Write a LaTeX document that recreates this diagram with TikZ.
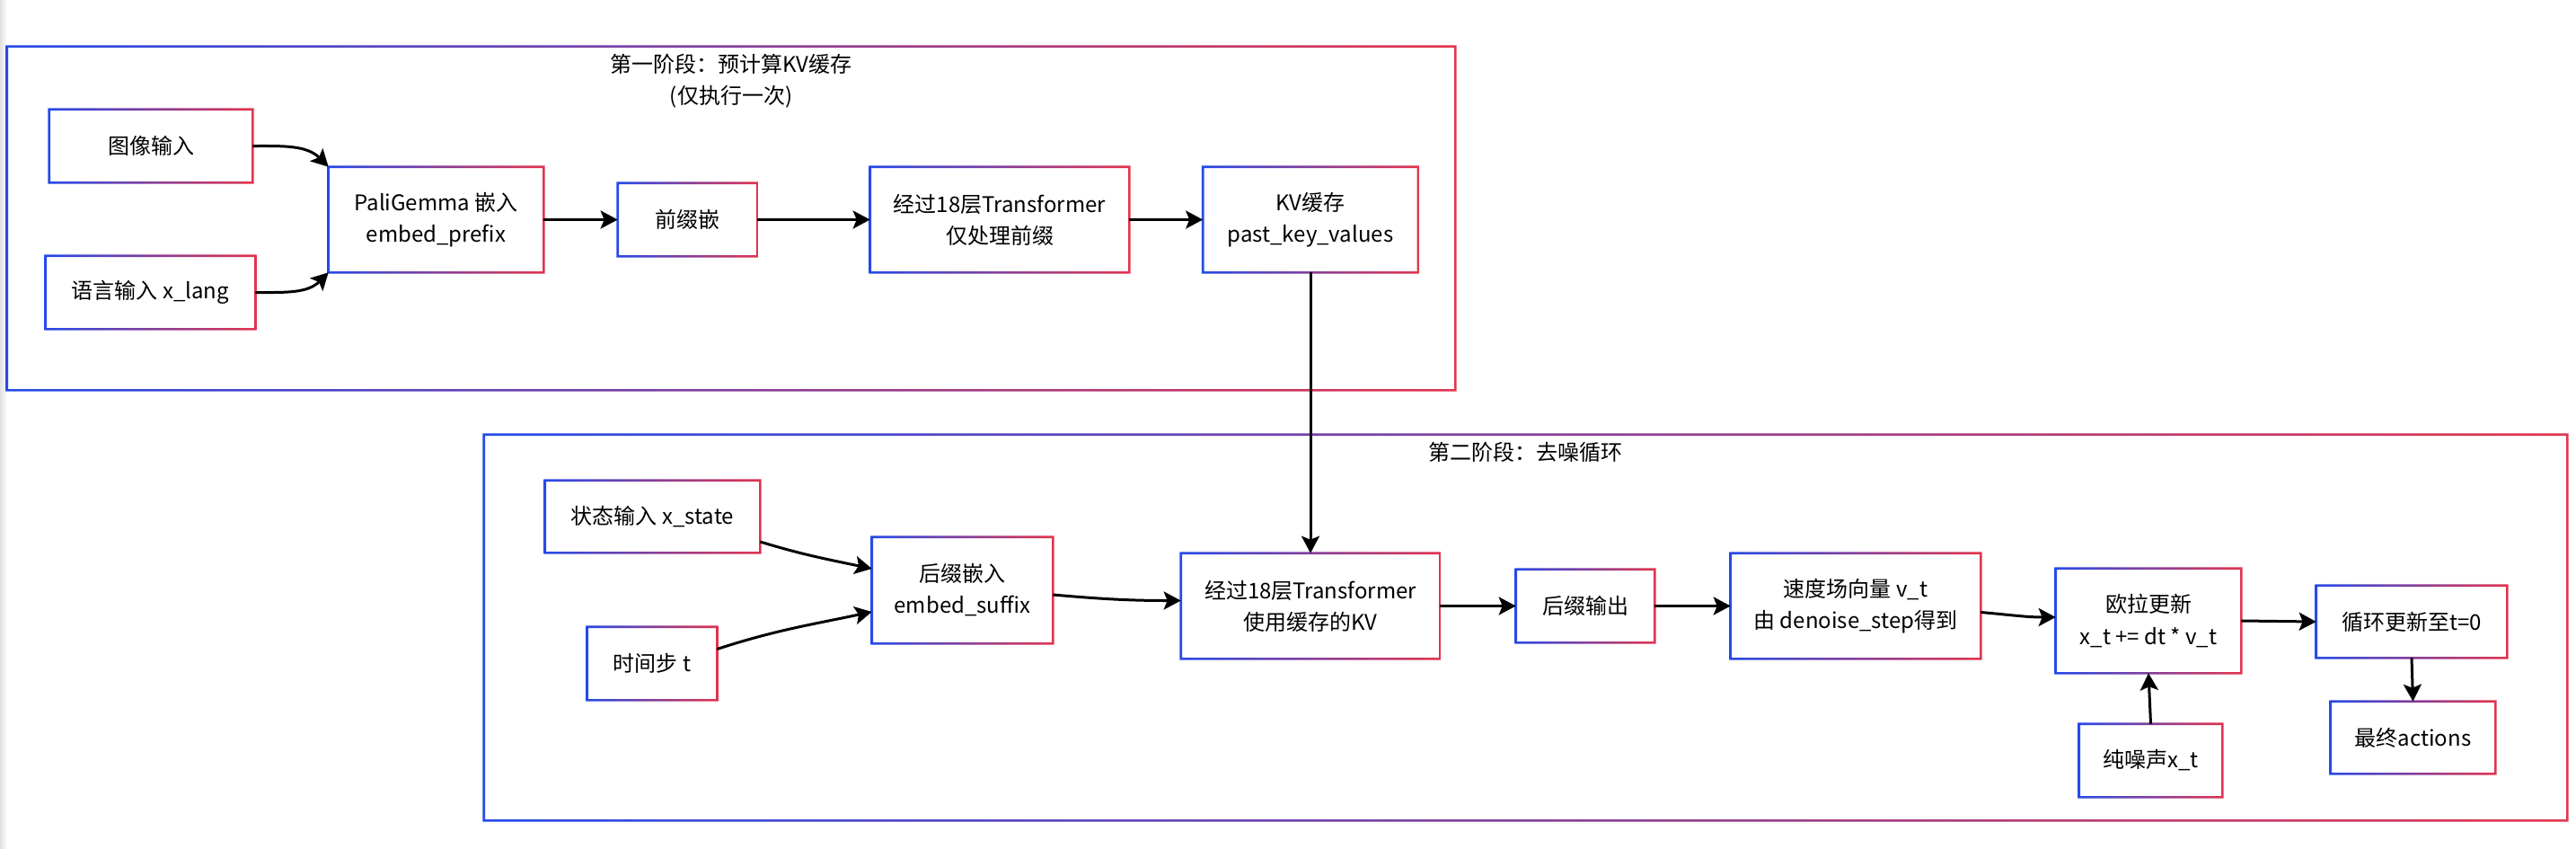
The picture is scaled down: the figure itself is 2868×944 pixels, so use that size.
\documentclass[tikz,border=0pt]{standalone}
\usepackage{fontspec}
\setmainfont{Noto Sans CJK SC}
\usetikzlibrary{arrows.meta}
\definecolor{eblue}{RGB}{38,74,232}
\definecolor{ered}{RGB}{226,52,78}
\newcommand{\gframe}[1]{%
  \shade[left color=eblue,right color=ered,even odd rule]
    ([shift={(-0.65pt,-0.65pt)}]#1.south west) rectangle ([shift={(0.65pt,0.65pt)}]#1.north east)
    ([shift={(0.65pt,0.65pt)}]#1.south west) rectangle ([shift={(-0.65pt,-0.65pt)}]#1.north east);}

\begin{document}
\begin{tikzpicture}[x=0.5pt,y=-0.5pt,
    font=\fontsize{12}{17.5}\selectfont,
    box/.style={rectangle,inner sep=0pt,outer sep=0.65pt,align=center},
    arr/.style={-{Stealth[length=9.5pt,width=10pt,inset=2pt]},line width=1.5pt}]
   \useasboundingbox (0,0) rectangle (2868,944);
   \shade[left color=black!12,right color=white] (0,0) rectangle (8,944);
   \node[box,minimum width=805pt,minimum height=190pt] (ph1) at (814,243) {};
   \node[box,minimum width=1158.5pt,minimum height=213.5pt] (ph2) at (1698.5,698.5) {};
   \node[align=center] (ph1t) at (814,90) {第一阶段：预计算KV缓存\\(仅执行一次)};
   \node (ph2t) at (1698,503) {第二阶段：去噪循环};
   \node[box,minimum width=112pt,minimum height=39.5pt] (img) at (168,162.5) {图像输入};
   \node[box,minimum width=115.5pt,minimum height=39.5pt] (lang) at (167.5,325.5) {语言输入 x\_lang};
   \node[box,minimum width=118.5pt,minimum height=57.5pt] (pali) at (485.5,244.5) {PaliGemma 嵌入\\embed\_prefix};
   \node[box,minimum width=76.5pt,minimum height=39.5pt] (pre) at (765.5,244.5) {前缀嵌};
   \node[box,minimum width=143pt,minimum height=57.5pt] (tf1) at (1113,244.5) {经过18层Transformer\\仅处理前缀};
   \node[box,minimum width=118.5pt,minimum height=57.5pt] (kv) at (1459,244.5) {KV缓存\\past\_key\_values};
   \node[box,minimum width=118.5pt,minimum height=39pt] (state) at (726.5,575) {状态输入 x\_state};
   \node[box,minimum width=71pt,minimum height=39.5pt] (time) at (726,738.5) {时间步 t};
   \node[box,minimum width=99.5pt,minimum height=58pt] (suf) at (1071.5,657) {后缀嵌入\\embed\_suffix};
   \node[box,minimum width=143pt,minimum height=57.5pt] (tf2) at (1459,674.5) {经过18层Transformer\\使用缓存的KV};
   \node[box,minimum width=76pt,minimum height=39.5pt] (sufout) at (1765,674.5) {后缀输出};
   \node[box,minimum width=138pt,minimum height=57.5pt] (vel) at (2066,674.5) {速度场向量 v\_t\\由 denoise\_step得到};
   \node[box,minimum width=102pt,minimum height=57pt] (euler) at (2392,691) {欧拉更新\\x\_t += dt * v\_t};
   \node[box,minimum width=105pt,minimum height=39pt] (loop) at (2685,692) {循环更新至t=0};
   \node[box,minimum width=78.5pt,minimum height=39.5pt] (noise) at (2394.5,846.5) {纯噪声x\_t};
   \node[box,minimum width=90.5pt,minimum height=39pt] (final) at (2686.5,821) {最终actions};
   \foreach \n in {ph1,ph2,img,lang,pali,pre,tf1,kv,state,time,suf,tf2,sufout,vel,euler,loop,noise,final}
      \gframe{\n};
   \draw[arr] (img.east) to[out=0,in=135] (pali.north west);
   \draw[arr] (lang.east) to[out=0,in=225] (pali.south west);
   \draw[arr] (pali.east) -- (pre.west);
   \draw[arr] (pre.east) -- (tf1.west);
   \draw[arr] (tf1.east) -- (kv.west);
   \draw[arr] (kv.south) -- (tf2.north);
   \draw[arr] ([yshift=-14pt]state.east) to[out=-17,in=168] ([yshift=12pt]suf.west);
   \draw[arr] ([yshift=8pt]time.east) to[out=18,in=192] ([yshift=-12pt]suf.west);
   \draw[arr] ([yshift=-2.5pt]suf.east) to[out=-5,in=180] ([yshift=3pt]tf2.west);
   \draw[arr] (tf2.east) -- (sufout.west);
   \draw[arr] (sufout.east) -- (vel.west);
   \draw[arr] ([yshift=-3.5pt]vel.east) to[out=-5,in=180] ([yshift=2pt]euler.west);
   \draw[arr] (euler.east) -- (loop.west);
   \draw[arr] (loop.south) -- (final.north);
   \draw[arr] (noise.north) -- (euler.south);
  \end{tikzpicture}
\end{document}
